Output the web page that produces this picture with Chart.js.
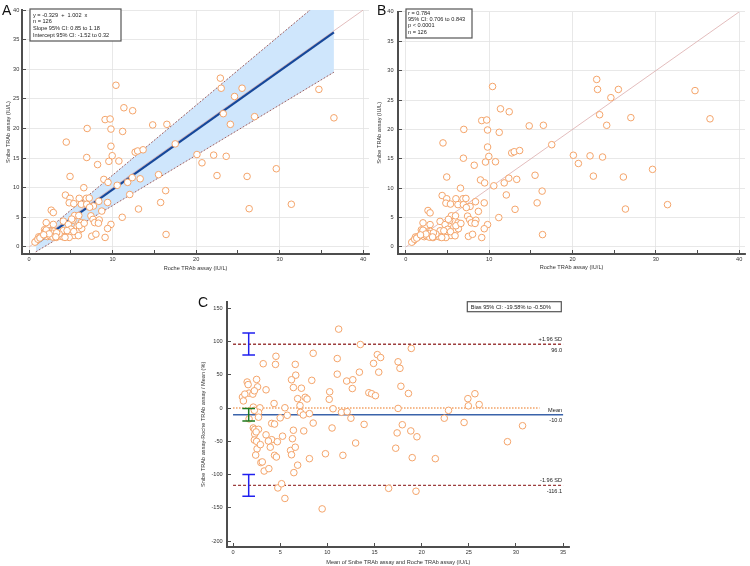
<!DOCTYPE html>
<html>
<head>
<meta charset="utf-8">
<script src="https://cdn.jsdelivr.net/npm/chart.js@4.4.1/dist/chart.umd.min.js"></script>
<style>
  body { margin: 0; background: #fff; width: 750px; height: 566px; position: relative; overflow: hidden; font-family: "Liberation Sans", Arial, sans-serif; }
  canvas { position: absolute; }
  #chartA { left: 0; top: 0; }
  #chartB { left: 375px; top: 0; }
  #chartC { left: 190px; top: 290px; }
  .panel { position: absolute; font-size: 14px; line-height: 14px; color: #111; }
</style>
</head>
<body>
<canvas id="chartA" width="375" height="280"></canvas>
<canvas id="chartB" width="375" height="280"></canvas>
<canvas id="chartC" width="390" height="276"></canvas>
<div class="panel" style="left:2px;top:3px">A</div>
<div class="panel" style="left:377px;top:3px">B</div>
<div class="panel" style="left:198px;top:295px">C</div>
<script>
const roche = [4.45,6.95,9.1,9.7,10.4,9.8,9.8,11.35,12.4,11.2,14.8,16.5,17.5,12.7,13.0,13.65,22.9,23.0,25.5,24.6,23.25,24.1,27.0,34.7,36.5,
  6.9,9.95,9.55,10.75,8.2,20.1,20.7,22.1,23.6,29.6,15.5,22.5,26.1,4.9,8.95,9.45,10.55,11.8,12.35,13.3,6.55,16.35,4.35,12.05,4.9,6.0,6.85,7.2,
  4.8,5.35,6.25,6.9,8.35,7.7,7.25,9.4,15.75,31.4,8.7,13.1,26.35,2.65,2.9,5.45,5.95,7.4,11.15,
  5.25,4.1,6.25,2.05,7.65,7.85,8.4,8.3,9.8,9.4,2.9,4.7,5.75,5.0,6.0,2.8,1.85,4.1,4.55,7.5,8.0,9.1,16.4,5.4,4.8,6.3,2.95,2.8,5.35,1.15,
  1.55,2.2,2.45,2.85,3.25,3.7,4.05,5.9,0.9,0.7,1.05,1.4,1.95,2.05,3.6,6.0,3.3,1.3,2.4,5.1,3.2,4.3,6.6,1.75];
const snibe = [17.7,20.0,21.5,21.6,27.3,19.9,17.0,23.5,23.0,19.5,20.6,20.7,17.4,16.0,16.2,16.4,28.5,26.8,26.8,25.4,22.5,20.7,22.0,26.6,21.8,
  15.1,15.4,14.45,14.5,13.9,15.6,14.2,15.5,15.3,13.2,12.2,12.05,11.9,11.9,11.4,10.9,10.4,10.9,11.7,11.5,10.0,9.5,8.75,8.85,8.2,8.2,8.2,8.25,
  7.45,7.3,7.2,7.2,7.7,6.9,6.7,7.5,7.5,7.2,6.05,6.4,6.45,6.2,5.8,5.3,5.3,5.25,5.0,
  4.5,4.35,4.1,4.1,4.65,4.1,4.55,4.0,3.8,3.1,3.8,3.8,3.4,3.0,2.85,2.75,2.9,2.75,2.75,1.8,2.15,1.6,2.1,1.95,1.6,3.1,2.65,2.3,2.6,1.7,
  1.8,1.75,1.9,1.65,1.6,1.85,1.7,1.9,1.05,0.8,1.3,1.75,2.6,2.85,2.2,3.6,2.4,1.5,2.2,4.7,1.7,1.6,4.0,2.05];

// Bland-Altman points
const baMean = [11.2,13.5,18.9,4.55,8.5,11.05,15.3,15.65,3.2,4.5,6.6,14.9,17.5,17.7,11.05,13.4,15.45,6.65,6.2,7.25,
  8.35,12.05,12.7,12.65,1.5,1.6,2.5,2.6,3.5,1.7,2.1,1.0,1.1,6.4,10.25,10.2,17.8,14.4,14.7,15.1,
  18.6,6.85,7.65,7.85,4.35,5.5,7.1,2.85,10.6,17.5,2.7,2.7,7.15,7.45,8.1,11.5,12.1,5.75,5.0,12.5,
  8.5,13.9,22.4,22.85,24.5,24.9,25.65,24.95,26.1,30.7,4.1,2.15,2.3,2.7,10.5,17.95,6.4,7.5,18.85,2.3,
  3.5,2.26,2.5,4.1,3.75,5.25,6.3,4.7,2.55,3.95,2.4,2.9,4.4,4.6,6.1,6.2,6.6,6.85,6.45,8.1,
  9.8,11.65,13.0,17.25,17.4,19.5,19.0,21.45,29.1,2.95,3.1,3.3,3.8,4.75,5.15,5.5,9.45,16.5,19.4,1.25,
  2.15,2.26,1.7,4.4,2.45,2.26];
const baDiffPct = [118.7,95.6,89.7,77.9,82.4,74.5,80.4,76,66.7,65.7,65.7,67.2,69.6,59.8,51,54,54,49.5,42.6,29.9,
  41.7,40.7,42.6,29.4,39.2,35.3,43.1,31.9,27.5,22.5,21,16.6,10.8,30.9,24.5,13.2,32.8,23.1,21.6,18.7,
  22,14.2,16.2,13.7,6.9,0.5,3.9,0.4,-1,-0.5,-6.4,-13.7,-6.4,-10.3,-8.3,-6.3,-5.4,-10.8,-14.7,-15.2,
  -22.5,-24.5,-15.2,-3.4,-21.6,14.2,21.6,3.4,5.4,-26.5,-23,-29.9,-32,-31.9,-29.9,-25,-33.3,-34.3,-34.3,-39.2,
  -40.2,-48,-50,-47.5,-49.5,-42.2,-46,-50.5,-61.3,-58.8,-70.6,-54.9,-71,-73.5,-63.7,-70.1,-58.8,-85.8,-97,-76,
  -68.6,-71,-52.5,-60.3,-37.3,-43.1,-74.5,-76,-50.5,-81.9,-80.9,-94.6,-91,-120,-113.7,-135.8,-151.5,-120.6,-125,21,
  1.5,-3.4,-16.2,-24,-35.8,26];

// Passing-Bablok fit (panel A)
const regIntercept = -0.329;
const regSlope = 1.002;
const ciIntercept = [-1.52, 0.32];
const ciSlope = [0.85, 1.18];
const fitRange = [0.8, 36.5];
const identityRange = [0, 40];

// Bland-Altman lines (panel C)
const limitNames = ['+1.96 SD', 'Mean', '-1.96 SD'];
const limitValues = [96.0, -10.0, -116.1];
const limitRange = [0, 35];
const zeroRange = [0, 32.5];
const upperLimitCI = [79.9, 112.8];
const biasCI = [-19.58, -0.50];
const lowerLimitCI = [-132.4, -99.7];
const ciBarX = 1.66;

const statsA = ['y = -0.329  +  1.002  x', 'n = 126', 'Slope 95% CI: 0.85 to 1.18', 'Intercept 95% CI: -1.52 to 0.32'];
const statsB = ['r = 0.784', '95% CI: 0.706 to 0.843', 'p < 0.0001', 'n = 126'];
const statsC = ['Bias 95% CI: -19.58% to -0.50%'];

const FONT = '"Liberation Sans", Arial, sans-serif';
const TXT = '#333';
const AXIS = '#4e4e4e';
const GRID = '#e2e2e2';
const ORANGE = 'rgb(244,164,106)';
const SMALL = 5.6;

const scatterPts = roche.map((x, i) => ({ x: x, y: snibe[i] }));
const baPts = baMean.map((x, i) => ({ x: x, y: baDiffPct[i] }));

function lineFrom(a, b, range) {
    return range.map(x => ({ x: x, y: a + b * x }));
}

function flat(y, range) {
    return range.map(x => ({ x: x, y: y }));
}

function iBeam(x, lim, hw) {
    return [
        { x: x - hw, y: lim[1] }, { x: x + hw, y: lim[1] }, { x: x, y: lim[1] },
        { x: x, y: lim[0] }, { x: x - hw, y: lim[0] }, { x: x + hw, y: lim[0] }
    ];
}

function axis(o) {
    return {
        type: 'linear',
        min: o.min,
        max: o.max,
        afterFit: o.fit,
        border: { display: true, color: AXIS, width: 2 },
        grid: {
            display: true,
            drawOnChartArea: !!o.gridColor,
            color: o.gridColor || GRID,
            lineWidth: 0.8,
            drawTicks: true,
            tickLength: -4,
            tickColor: AXIS,
            tickWidth: 1
        },
        ticks: {
            stepSize: o.step,
            includeBounds: false,
            autoSkip: false,
            maxRotation: 0,
            padding: o.pad,
            color: TXT,
            font: { family: FONT, size: SMALL },
            callback: o.label || (v => v)
        },
        title: {
            display: true,
            text: o.title,
            color: TXT,
            font: { family: FONT, size: SMALL },
            padding: o.titlePad
        }
    };
}

const everyTen = v => (v % 10 === 0 ? v : '');
const tenGrid = ctx => (ctx.tick && ctx.tick.value % 10 === 0 ? GRID : 'rgba(0,0,0,0)');

function boxPlugin(lines, b) {
    return {
        id: 'statBox',
        afterDatasetsDraw(chart) {
            const ctx = chart.ctx;
            ctx.save();
            ctx.fillStyle = '#fff';
            ctx.fillRect(b.left, b.top, b.width, b.height);
            ctx.strokeStyle = '#555';
            ctx.lineWidth = 1.2;
            ctx.strokeRect(b.left, b.top, b.width, b.height);
            ctx.fillStyle = '#222';
            ctx.font = SMALL + 'px ' + FONT;
            ctx.textBaseline = 'middle';
            lines.forEach((t, i) => ctx.fillText(t, b.left + b.padX, b.top + b.firstY + i * b.lineH));
            ctx.restore();
        }
    };
}

const limitLabelPlugin = {
    id: 'limitLabels',
    afterDatasetsDraw(chart) {
        const ctx = chart.ctx;
        const xs = chart.scales.x, ys = chart.scales.y;
        ctx.save();
        ctx.fillStyle = '#222';
        ctx.font = SMALL + 'px ' + FONT;
        ctx.textAlign = 'right';
        ctx.textBaseline = 'middle';
        const px = xs.getPixelForValue(limitRange[1]) - 1;
        limitValues.forEach((v, i) => {
            const py = ys.getPixelForValue(v);
            ctx.fillText(limitNames[i], px, py - 4.5);
            ctx.fillText(v.toFixed(1), px, py + 6);
        });
        ctx.restore();
    }
};

const pointSet = pts => ({
    type: 'scatter',
    data: pts,
    order: 0,
    pointRadius: 3.3,
    pointBorderWidth: 1,
    pointBorderColor: ORANGE,
    pointBackgroundColor: '#fff'
});

const lineSet = (pts, color, width, dash, order, extra) => Object.assign({
    type: 'line',
    data: pts,
    order: order,
    borderColor: color,
    borderWidth: width,
    borderDash: dash,
    pointRadius: 0,
    fill: false,
    tension: 0
}, extra || {});

const baseOptions = (padding, scales) => ({
    responsive: false,
    animation: false,
    layout: { padding: padding },
    plugins: {
        legend: { display: false },
        tooltip: { enabled: false },
        filler: { drawTime: 'beforeDatasetsDraw' }
    },
    scales: scales
});

// Panel A: Passing-Bablok regression
new Chart(document.getElementById('chartA'), {
    type: 'scatter',
    data: {
        datasets: [
            pointSet(scatterPts),
            lineSet(lineFrom(regIntercept, regSlope, fitRange), '#17489a', 2.2, [], 1),
            lineSet(lineFrom(ciIntercept[1], ciSlope[1], fitRange), '#8a3b3b', 0.8, [2, 1.5], 2,
                { fill: '+1', backgroundColor: '#cfe6fc' }),
            lineSet(lineFrom(ciIntercept[0], ciSlope[0], fitRange), '#8a3b3b', 0.8, [2, 1.5], 3),
            lineSet(lineFrom(0, 1, identityRange), 'rgb(220,172,172)', 0.8, [], 4)
        ]
    },
    options: baseOptions({ left: 0, right: 6, top: 9, bottom: 0 }, {
        x: axis({ min: -0.85, max: 40.7, step: 5, pad: 6.2, label: everyTen, gridColor: tenGrid,
            title: 'Roche TRAb assay (IU/L)', titlePad: { top: 0, bottom: 8.6 }, fit: s => { s.height = 26; } }),
        y: axis({ min: -1.2, max: 40, step: 5, pad: 6.7, gridColor: GRID,
            title: 'Snibe TRAb assay (IU/L)', titlePad: { top: 4.6, bottom: 0 }, fit: s => { s.width = 22; } })
    }),
    plugins: [boxPlugin(statsA, { left: 30, top: 9, width: 91, height: 32, padX: 3, firstY: 6, lineH: 6.7 })]
});

// Panel B: correlation
new Chart(document.getElementById('chartB'), {
    type: 'scatter',
    data: {
        datasets: [
            pointSet(scatterPts),
            lineSet(lineFrom(0, 1, identityRange), 'rgb(220,172,172)', 0.8, [], 1)
        ]
    },
    options: baseOptions({ left: 0, right: 2, top: 9, bottom: 0 }, {
        x: axis({ min: -0.95, max: 40.7, step: 5, pad: 6.2, label: everyTen, gridColor: tenGrid,
            title: 'Roche TRAb assay (IU/L)', titlePad: { top: 0, bottom: 9.6 }, fit: s => { s.height = 26; } }),
        y: axis({ min: -1.2, max: 40, step: 5, pad: 8.5, gridColor: GRID,
            title: 'Snibe TRAb assay (IU/L)', titlePad: { top: 1.5, bottom: 0 }, fit: s => { s.width = 23; } })
    }),
    plugins: [boxPlugin(statsB, { left: 31, top: 9, width: 66, height: 29, padX: 2, firstY: 4.5, lineH: 6.2 })]
});

// Panel C: Bland-Altman
new Chart(document.getElementById('chartC'), {
    type: 'scatter',
    data: {
        datasets: [
            pointSet(baPts),
            lineSet(flat(limitValues[0], limitRange), '#9c3d3d', 1.3, [3, 2], 1),
            lineSet(flat(limitValues[2], limitRange), '#9c3d3d', 1.3, [3, 2], 2),
            lineSet(flat(limitValues[1], limitRange), '#3a63aa', 1.3, [], 3),
            lineSet(flat(0, zeroRange), '#f2a062', 1.5, [1.5, 1.5], 4),
            lineSet(iBeam(ciBarX, upperLimitCI, 0.67), '#2020f0', 1.5, [], -3),
            lineSet(iBeam(ciBarX, biasCI, 0.67), '#1f7a1f', 1.5, [], -2),
            lineSet(iBeam(ciBarX, lowerLimitCI, 0.67), '#2020f0', 1.5, [], -1)
        ]
    },
    options: baseOptions({ left: 0, right: 10.3, top: 6, bottom: 0 }, {
        x: axis({ min: -0.64, max: 35.7, step: 5, pad: 6.2,
            title: 'Mean of Snibe TRAb assay and Roche TRAb assay (IU/L)', titlePad: { top: 0, bottom: 0.6 },
            fit: s => { s.height = 19; } }),
        y: axis({ min: -208.8, max: 160, step: 50, pad: 8.3,
            title: 'Snibe TRAb assay-Roche TRAb assay / Mean (%)', titlePad: { top: 9.6, bottom: 0 },
            fit: s => { s.width = 37; } })
    }),
    plugins: [limitLabelPlugin, boxPlugin(statsC, { left: 277.3, top: 11.7, width: 94, height: 10, padX: 3.4, firstY: 5.3, lineH: 6 })]
});
</script>
</body>
</html>
